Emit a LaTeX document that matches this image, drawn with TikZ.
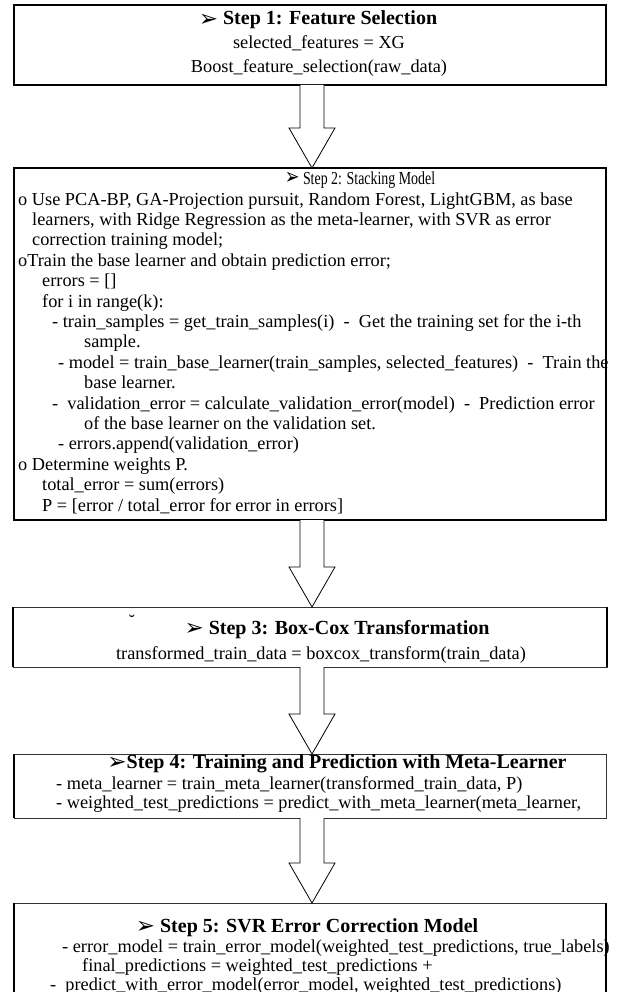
\documentclass[tikz,border=0pt]{standalone}
\usepackage{graphicx}
\usepackage{fontspec}
\setmainfont{Liberation Serif}
\newfontfamily\dingfont{DejaVu Sans}
\usetikzlibrary{calc}

\newcommand{\stepmark}{\raisebox{-1.5pt}{\dingfont\fontsize{23}{23}\selectfont ➢}}
% hollow block arrow from the bottom of one box to the top of the next
\newcommand{\flowarrow}[2]{%
  \draw[blockarr] ($(#1.south -| axis)+(-12,0)$) -- ($(#2.north -| axis)+(-12,-40)$)
    -- ($(#2.north -| axis)+(-23,-40)$) -- (#2.north -| axis)
    -- ($(#2.north -| axis)+(23,-40)$) -- ($(#2.north -| axis)+(12,-40)$)
    -- ($(#1.south -| axis)+(12,0)$);}

\tikzset{
  stepbox/.style={draw=black!80, line width=1pt, anchor=north west, minimum width=592pt,
    inner sep=0pt, outer sep=0pt},
  sideline/.style={line width=2pt},
  steptitle/.style={font=\fontsize{20}{24}\selectfont\bfseries, inner sep=0pt, anchor=base},
  codetext/.style={font=\fontsize{18.3}{20.4}\selectfont, inner sep=0pt, align=left, anchor=base west},
  blockarr/.style={draw, line width=0.8pt, fill=white},
}

\begin{document}
\begin{tikzpicture}[x=1pt,y=-1pt]
  \useasboundingbox (0,0) rectangle (619,992);
  \coordinate (axis) at (312,0);

  % boxes
  \node[stepbox, draw=black, line width=1.8pt, minimum height=80pt] (s1) at (14,5) {};
  \node[stepbox, draw=black, line width=2.6pt, minimum height=352pt] (s2) at (14,168) {};
  \node[stepbox, minimum width=594pt, minimum height=60pt] (s3) at (13,607) {};
  \node[stepbox, minimum height=64pt] (s4) at (14,754) {};
  \node[stepbox, minimum height=110pt] (s5) at (14,903) {};
  \draw[sideline] (s3.north east) -- (s3.south east);
  \draw[sideline] (s3.north west) -- (s3.south west);
  \draw[sideline] (s4.north west) -- (s4.south west);
  \draw[sideline] (s5.north west) -- (s5.south west);
  \draw[sideline] (s5.north east) -- (s5.south east);

  % step 1 (multi-line nodes sit on the baseline of their last line)
  \node[steptitle] (t1) at (318,25) {\stepmark\ Step 1: Feature Selection};
  \node[codetext, font=\fontsize{18.3}{24}\selectfont, align=center, anchor=base] (b1) at (319,73)
    {selected\_features = XG\\Boost\_feature\_selection(raw\_data)};

  % step 2
  \node[inner sep=0pt, anchor=base, font=\fontsize{18.3}{20}\selectfont] (t2) at (360,185)
    {\scalebox{0.76}[1]{\raisebox{1.5pt}{\stepmark}\ Step 2: Stacking Model}};
  \node[codetext] (b2) at (18,511) {o Use PCA-BP, GA-Projection pursuit, Random Forest, LightGBM, as base\\
    \hspace*{14pt}learners, with Ridge Regression as the meta-learner, with SVR as error\\
    \hspace*{14pt}correction training model;\\
    oTrain the base learner and obtain prediction error;\\
    \hspace*{24pt}errors = []\\
    \hspace*{24pt}for i in range(k):\\
    \hspace*{34pt}- train\_samples = get\_train\_samples(i)\ \ -\ \ Get the training set for the i-th\\
    \hspace*{66pt}sample.\\
    \hspace*{40pt}- model = train\_base\_learner(train\_samples, selected\_features)\ \ -\ \ Train the\\
    \hspace*{66pt}base learner.\\
    \hspace*{34pt}-\ \ validation\_error = calculate\_validation\_error(model)\ \ -\ \ Prediction error\\
    \hspace*{66pt}of the base learner on the validation set.\\
    \hspace*{40pt}- errors.append(validation\_error)\\
    o Determine weights P.\\
    \hspace*{24pt}total\_error = sum(errors)\\
    \hspace*{24pt}P = [error / total\_error for error in errors]};

  % step 3
  \node[inner sep=0pt, font=\fontsize{18.3}{20}\selectfont] (br) at (132,621) {\symbol{"02D8}};
  \node[steptitle] (t3) at (337,634) {\stepmark\ Step 3: Box-Cox Transformation};
  \node[codetext, anchor=base] (b3) at (321,659) {transformed\_train\_data = boxcox\_transform(train\_data)};

  % step 4
  \node[steptitle] (t4) at (337,768) {\stepmark Step 4: Training and Prediction with Meta-Learner};
  \node[codetext, font=\fontsize{18.3}{19}\selectfont] (b4) at (56,808)
    {- meta\_learner = train\_meta\_learner(transformed\_train\_data, P)\\
    - weighted\_test\_predictions = predict\_with\_meta\_learner(meta\_learner,};

  % step 5
  \node[steptitle] (t5) at (307,932) {\stepmark\ Step 5: SVR Error Correction Model};
  \node[codetext, font=\fontsize{18.3}{19}\selectfont] (b5) at (50,990)
    {\hspace*{12pt}- error\_model = train\_error\_model(weighted\_test\_predictions, true\_labels)\\
    \hspace*{32pt}final\_predictions = weighted\_test\_predictions +\\
    -\ \ predict\_with\_error\_model(error\_model, weighted\_test\_predictions)};

  % arrows
  \flowarrow{s1}{s2}
  \flowarrow{s2}{s3}
  \flowarrow{s3}{s4}
  \flowarrow{s4}{s5}
\end{tikzpicture}
\end{document}
